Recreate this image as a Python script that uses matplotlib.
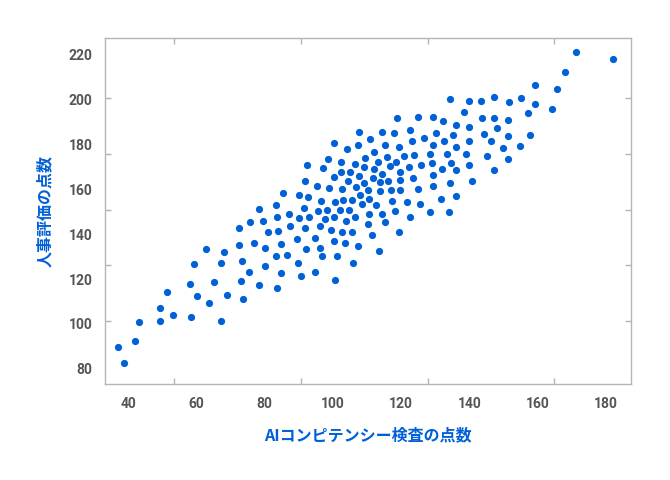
import matplotlib
matplotlib.use("Agg")
import matplotlib.pyplot as plt
from matplotlib.ticker import FixedLocator

plt.rcParams['font.family'] = ['Noto Sans CJK JP', 'DejaVu Sans']

# AIコンピテンシー検査の点数 (x) と 人事評価の点数 (y)
ai_score = [
    37.0, 38.9, 42.0, 43.2, 49.2, 49.2, 51.3, 53.2, 58.4, 58.1, 60.1, 59.4, 62.7, 63.7, 65.2,
    67.2, 67.1, 68.1, 69.1, 72.5, 72.4, 73.4, 73.0, 73.8, 75.4, 75.7, 78.4, 79.5, 76.9, 80.1,
    80.1, 78.2, 81.1,
    118.9, 124.9, 129.5, 132.2, 107.7, 114.5, 117.9, 122.6, 130.3, 135.1, 111.0, 126.7, 123.1,
    132.6, 100.2, 107.3, 115.3, 129.4, 119.5, 104.2, 112.1, 128.5, 133.5, 120.8, 123.7, 98.7,
    109.5, 115.9, 92.3, 102.5, 106.6, 113.3, 118.5, 125.7, 129.0, 134.6, 97.1, 109.1, 112.1,
    116.7, 122.2, 119.7, 102.5, 105.0, 114.3, 131.9, 107.6, 100.3, 111.9, 91.7, 104.3, 109.0,
    113.9, 116.2, 119.7, 123.6, 129.3, 134.3, 95.4, 99.0, 102.6, 106.7, 110.3, 113.9, 117.0,
    119.7, 125.1, 129.3, 85.3, 90.1, 92.6, 108.0, 103.1, 105.5, 110.6, 117.2, 121.7, 125.4,
    131.6, 96.4, 100.5, 83.3, 91.6, 108.4, 112.6, 95.5, 98.3, 102.1, 104.7, 87.1, 97.7, 118.2,
    128.6, 134.1, 83.7, 90.1, 92.9, 100.4, 106.6, 110.6, 114.4, 122.5, 103.8, 110.2, 115.3,
    87.5, 96.2, 84.0, 91.8, 99.5, 102.7, 105.7, 119.3, 111.6, 89.5, 94.9, 100.3, 103.6, 84.9,
    107.5, 96.2, 92.0, 113.5, 83.4, 86.7, 96.7, 101.2, 89.7, 105.9, 84.9, 90.6, 94.7, 100.6,
    83.5,
    171.2, 182.0, 168.0, 159.2, 165.8, 134.3, 139.9, 143.5, 147.2, 151.5, 155.2, 159.3, 164.3,
    138.5, 157.2, 143.6, 147.3, 151.2, 136.0, 140.0, 148.1, 144.4, 151.4, 157.7, 140.0, 146.3,
    136.0, 149.8, 154.9, 139.1, 145.3, 139.9, 151.2, 136.2, 147.1, 140.8, 136.0,
]
hr_score = [
    89.6, 82.5, 92.6, 100.9, 107.2, 101.3, 114.4, 104.1, 102.9, 117.6, 112.6, 126.7, 133.3,
    109.5, 118.7, 101.5, 127.2, 132.1, 112.7, 142.9, 135.1, 128.1, 119.1, 110.9, 123.2, 145.5,
    151.1, 145.9, 136.1, 133.9, 126.0, 117.5, 140.9,
    191.7, 192.0, 192.0, 190.5, 185.5, 185.5, 184.9, 186.5, 185.0, 184.0, 182.4, 182.6, 181.2,
    181.5, 180.3, 179.7, 179.5, 179.8, 178.6, 177.9, 176.7, 175.8, 175.7, 174.6, 175.1, 173.3,
    173.9, 174.2, 170.9, 172.1, 171.2, 172.1, 172.1, 170.7, 171.4, 171.5, 169.5, 169.6, 168.9,
    170.1, 169.9, 167.7, 167.4, 167.4, 166.7, 169.0, 165.9, 165.3, 165.0, 163.7, 163.7, 162.8,
    163.1, 163.7, 164.1, 165.0, 166.1, 162.9, 161.3, 160.3, 160.1, 161.0, 159.4, 159.2, 159.7,
    159.8, 160.0, 161.2, 158.1, 157.3, 156.6, 157.3, 155.2, 155.2, 155.4, 154.9, 154.2, 153.5,
    155.4, 154.6, 154.2, 152.7, 151.8, 153.3, 152.9, 150.2, 150.9, 150.5, 150.8, 148.9, 146.8,
    150.3, 149.6, 149.6, 147.4, 147.2, 147.5, 147.7, 147.4, 148.7, 149.0, 147.8, 145.6, 144.4,
    145.2, 143.7, 143.5, 141.3, 142.5, 141.8, 141.0, 141.0, 140.7, 139.5, 137.6, 138.1, 136.9,
    136.1, 135.4, 134.7, 133.6, 133.2, 132.3, 130.1, 130.9, 130.1, 130.1, 127.2, 127.2, 122.6,
    121.2, 123.2, 119.7, 116.0,
    221.0, 217.9, 212.0, 206.1, 204.3, 200.0, 199.2, 199.1, 200.9, 198.8, 200.6, 197.9, 195.8,
    194.2, 193.8, 191.5, 191.7, 190.7, 188.4, 187.8, 187.1, 184.6, 183.7, 184.1, 181.5, 181.2,
    178.5, 178.4, 179.0, 175.4, 174.7, 170.8, 173.5, 168.4, 168.4, 163.7, 156.7,
]

x_labels = [40, 60, 80, 100, 120, 140, 160, 180]
y_labels = [80, 100, 120, 140, 160, 180, 200, 220]
x_marks = [53.5, 90.6, 127.8, 164.8]
y_marks = [101.3, 126.2, 150.7, 175.6, 200.4]

blue = '#0060d6'
frame = '#b5b5b5'

fig = plt.figure(figsize=(6.7, 4.8), dpi=100)
ax = fig.add_axes([105 / 670, 96 / 480, 526 / 670, 346 / 480])

ax.scatter(ai_score, hr_score, s=27, color=blue, linewidths=0, zorder=3)

ax.set_xlim(33.2, 187.4)
ax.set_ylim(73.3, 227.2)

for s in ax.spines.values():
    s.set_color(frame)
    s.set_linewidth(1.0)

ax.xaxis.set_major_locator(FixedLocator(x_labels))
ax.yaxis.set_major_locator(FixedLocator(y_labels))
ax.xaxis.set_minor_locator(FixedLocator(x_marks))
ax.yaxis.set_minor_locator(FixedLocator(y_marks))
ax.tick_params(which='major', length=0, pad=9, labelsize=10, labelcolor='#555555')
ax.tick_params(which='minor', direction='in', length=4.3, width=1.0, color=frame,
               top=True, right=True, bottom=True, left=True)
for lab in ax.get_xticklabels() + ax.get_yticklabels():
    lab.set_family(['Roboto', 'DejaVu Sans'])
    lab.set_fontweight('bold')

ax.set_xlabel('AIコンピテンシー検査の点数', color=blue, fontsize=11.5, fontweight='bold')
ax.set_ylabel('人事評価の点数', color=blue, fontsize=11.5, fontweight='bold')
ax.xaxis.set_label_coords(0.5, -0.147)
ax.yaxis.set_label_coords(-0.114, 0.5)
ax.xaxis.label.set_va('center')
ax.yaxis.label.set_va('center')

fig.savefig('out.png', dpi=100)
